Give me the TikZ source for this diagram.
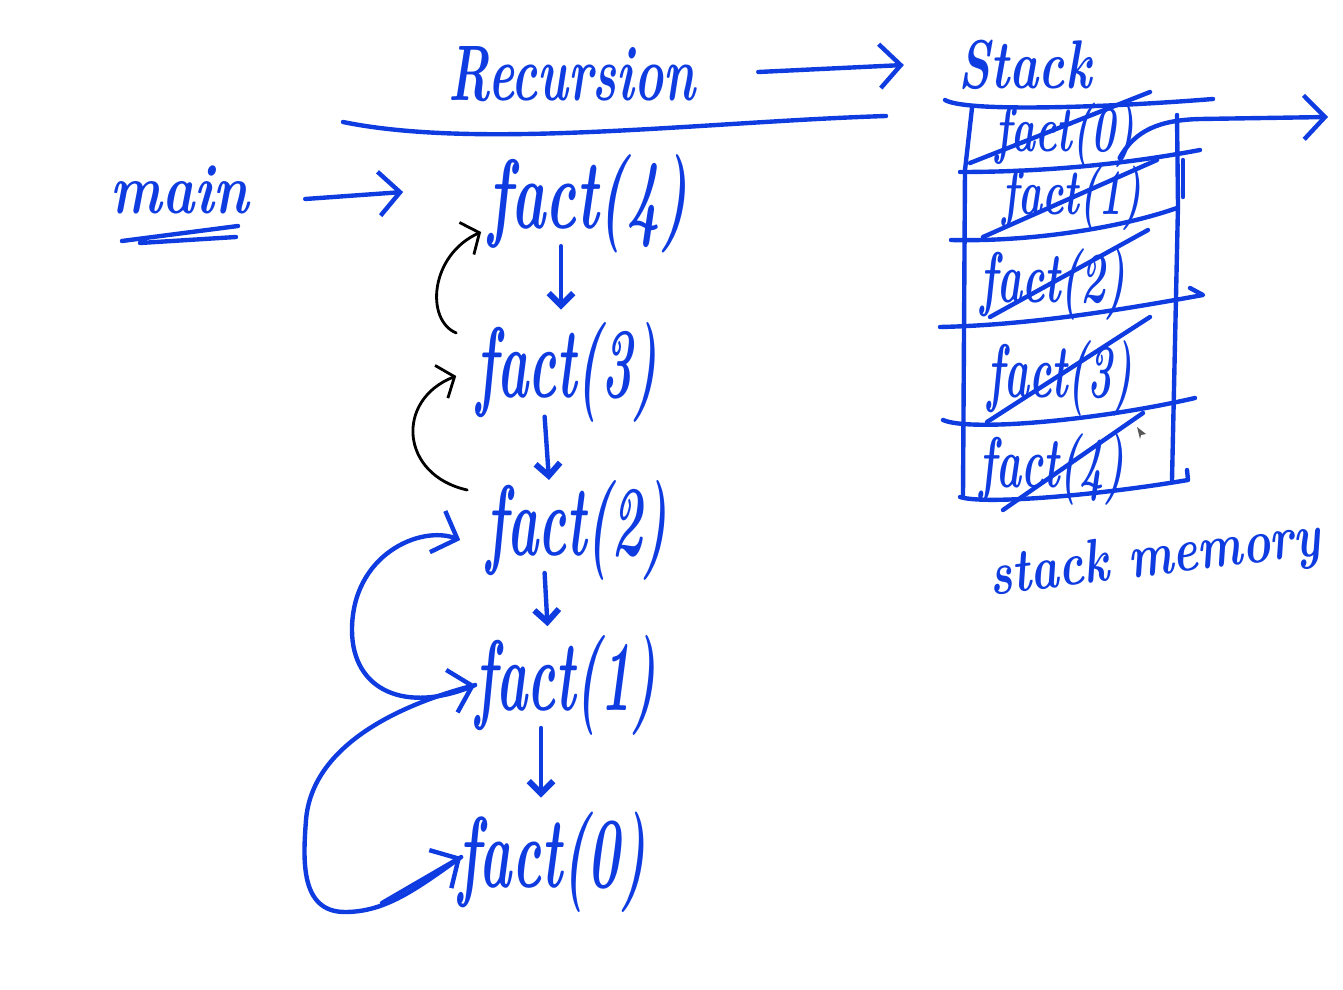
\documentclass[tikz,border=0pt]{standalone}
\usepackage{graphicx}
\usetikzlibrary{arrows.meta}
\definecolor{handblue}{RGB}{15,60,225}
\newcommand{\hand}[3]{{\fontsize{#1}{#1}\selectfont\bfseries\itshape\scalebox{1}[#2]{#3}}}
\tikzset{
  pen/.style={draw=handblue,line width=2.5pt,line cap=round,line join=round},
  thinpen/.style={draw=black,line width=1.6pt,line cap=round,line join=round},
  word/.style={text=handblue,inner sep=0pt,outer sep=0pt},
  bigtip/.style={>={Straight Barb[length=12pt,width=25pt,line width=2.5pt]}},
  downtip/.style={>={Straight Barb[length=7pt,width=14pt,line width=3.4pt]}},
  blacktip/.style={>={Straight Barb[length=8pt,width=20pt,line width=1.6pt]}}
}

\begin{document}
\begin{tikzpicture}[x=0.02cm,y=-0.02cm]
    \useasboundingbox (0,0) rectangle (1343,990);

    \begin{scope}[every node/.style={word}]
      \node (rec) at (572,74) {\hand{28}{1.6}{Recursion}};
      \node (stack) at (1025,65) {\hand{28}{1.4}{Stack}};
      \node (mainfn) at (180,190) {\hand{31}{1.3}{main}};

      \node (fact4) at (588,204) {\hand{33}{1.7}{fact(4)}};
      \node (fact3) at (567,372) {\hand{30}{1.9}{fact(3)}};
      \node (fact2) at (577,530) {\hand{30}{1.9}{fact(2)}};
      \node (fact1) at (566,685) {\hand{30}{1.9}{fact(1)}};
      \node (fact0) at (552,862) {\hand{31}{1.85}{fact(0)}};

      \node (slot0) at (1065,135) {\hand{23}{1.6}{fact(0)}};
      \node (slot1) at (1072,198) {\hand{23}{1.6}{fact(1)}};
      \node (slot2) at (1053,285) {\hand{24}{1.7}{fact(2)}};
      \node (slot3) at (1060,378) {\hand{24}{1.8}{fact(3)}};
      \node (slot4) at (1052,470) {\hand{24}{1.7}{fact(4)}};

      \node[rotate=7] (mem) at (1155,560) {\hand{27}{1.3}{stack memory}};
    \end{scope}

    \coordinate (pop) at (1328,117);

    \begin{scope}[pen,bigtip]
      \draw [->] ([shift={(63,-2)}]rec.east) -- ([shift={(-55,0)}]stack.west);
      \draw [->] ([shift={(56,9)}]mainfn.east) -- ([shift={(-85,-12)}]fact4.west);
      \draw (343,122) .. controls (480,150) and (700,122) .. (886,116);
      \draw (122,241) -- (238,226) (140,243) -- (236,237);
    \end{scope}

    % calls going down
    \begin{scope}[pen,downtip]
      \draw [->,shorten >=7pt] ([yshift=4pt]fact4.south -| 561,0) -- (fact3.north -| 561,0);
      \draw [->,shorten <=-3pt] (fact3.south -| 545,0) -- (fact2.north -| 549,0);
      \draw [->,shorten <=-4pt,shorten >=5pt] (fact2.south -| 545,0) -- (fact1.north -| 548,0);
      \draw [->,shorten <=-4pt,shorten >=8pt] (fact1.south -| 541,0) -- (fact0.north -| 541,0);
    \end{scope}

    % returns
    \begin{scope}[thinpen,blacktip]
      \draw [->] ([shift={(-20,11)}]fact3.north west) .. controls (425,320) and (430,255) .. ([shift={(-7,28)}]fact4.west);
      \draw [->] ([shift={(-19,-40)}]fact2.west) .. controls (400,475) and (395,400) .. ([shift={(-20,4)}]fact3.west);
    \end{scope}
    \begin{scope}[pen,bigtip]
      \draw [->] (fact1.west) .. controls (405,715) and (352,690) .. (352,630)
         .. controls (352,555) and (420,525) .. ([shift={(-26,10)}]fact2.west);
      \draw [->] ([shift={(3,-5)}]fact0.west) .. controls (415,890) and (385,912) .. (345,912)
         .. controls (300,912) and (303,860) .. (306,820)
         .. controls (312,745) and (400,705) .. (fact1.west);
      \draw [->] (382,903) -- ([shift={(3,-5)}]fact0.west);

      % stack frame
      \draw (972,108) -- (965,170) -- (963,495);
      \draw (1177,115) -- (1178,205) -- (1172,480);
      \draw (1183,160) -- (1183,197);
      \draw (945,100) .. controls (965,112) and (1100,108) .. (1213,99);
      \draw (960,172) .. controls (1040,172) and (1120,165) .. (1200,150);
      \draw (951,240) .. controls (1030,242) and (1120,228) .. (1177,208);
      \draw (940,327) .. controls (1030,325) and (1120,310) .. (1203,295) -- (1190,288);
      \draw (943,420) .. controls (970,432) and (1100,420) .. (1195,398);
      \draw (960,497) .. controls (985,505) and (1100,495) .. (1188,480) -- (1187,470);

      % crossed out
      \draw (970,163) -- (1150,92);
      \draw (983,237) -- (1157,160);
      \draw (990,317) -- (1148,230);
      \draw (987,422) -- (1150,317);
      \draw (1003,510) -- (1143,413);

      \draw [->] ([shift={(-15,23)}]slot0.east) .. controls (1135,130) and (1160,120) .. (1200,119) -- (pop);
    \end{scope}

    \fill[gray!70!black] (1137,427) -- (1146,434) -- (1141,435) -- (1140,439) -- cycle;
\end{tikzpicture}
\end{document}
